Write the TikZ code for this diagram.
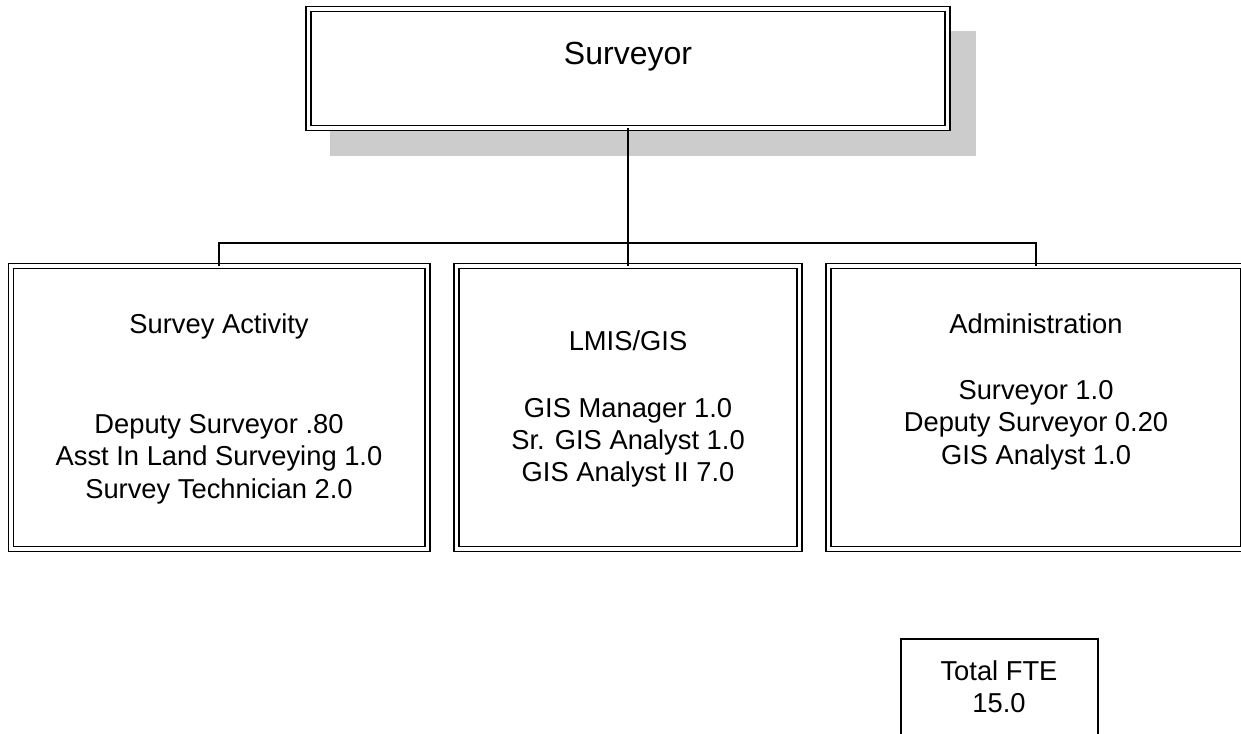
\documentclass[tikz,border=0pt]{standalone}
\usepackage{fontspec}
\setmainfont{Liberation Sans}
\begin{document}
\begin{tikzpicture}[x=0.75pt,y=-0.75pt,
  unitbox/.style={draw=black, line width=1.25pt, double=white, double distance=2.4pt,
    rectangle, inner sep=0pt, outer sep=0pt, fill=white},
  totalbox/.style={draw=black, line width=1.2pt, rectangle, inner sep=0pt, outer sep=0pt},
  link/.style={draw=black, line width=1.15pt},
  label/.style={anchor=base, inner sep=0pt, font=\fontsize{20.5}{24.4}\selectfont},
  toplabel/.style={anchor=base, inner sep=0pt, font=\fontsize{24}{28}\selectfont}]
\useasboundingbox (0,0) rectangle (1241,734);
\clip (0,0) rectangle (1241,734);

% drop shadow of the head box
\fill[gray!40] (330,31) rectangle (976,156);

% head box
\node[unitbox, minimum width=638.5*0.75pt, minimum height=119*0.75pt] (head) at (628,68.5) {};
\node[toplabel] (headtxt) at (628,65) {Surveyor};

% section boxes
\node[unitbox, minimum width=416.5*0.75pt, minimum height=283*0.75pt] (survey) at (219.25,407.5) {};
\node[unitbox, minimum width=343*0.75pt, minimum height=283*0.75pt] (gis) at (628,407.5) {};
\node[unitbox, minimum width=415*0.75pt, minimum height=283*0.75pt] (admin) at (1036,407.5) {};

% connectors
\coordinate (bus) at (628,243);
\draw[link] (head.south) -- (bus);
\draw[link] (survey.north) |- (bus) -| (admin.north);
\draw[link] (gis.north) -- (bus);

% section texts
\node[label] (surveyttl) at (219,333) {Survey Activity};
\node[label] (survey1) at (219,433) {Deputy Surveyor .80};
\node[label] (survey2) at (219,465.5) {Asst In Land Surveying 1.0};
\node[label] (survey3) at (219,498) {Survey Technician 2.0};

\node[label] (gisttl) at (628,350) {LMIS/GIS};
\node[label] (gis1) at (628,417) {GIS Manager 1.0};
\node[label] (gis2) at (628,449) {Sr. GIS Analyst 1.0};
\node[label] (gis3) at (628,481) {GIS Analyst II 7.0};

\node[label] (adminttl) at (1036,333) {Administration};
\node[label] (admin1) at (1036,399) {Surveyor 1.0};
\node[label] (admin2) at (1036,431.5) {Deputy Surveyor 0.20};
\node[label] (admin3) at (1036,464) {GIS Analyst 1.0};

% staff total
\node[totalbox, minimum width=197.5*0.75pt, minimum height=140*0.75pt] (total) at (999.5,708.75) {};
\node[label] (total1) at (999,680) {Total FTE};
\node[label] (total2) at (999,712) {15.0};
\end{tikzpicture}
\end{document}
